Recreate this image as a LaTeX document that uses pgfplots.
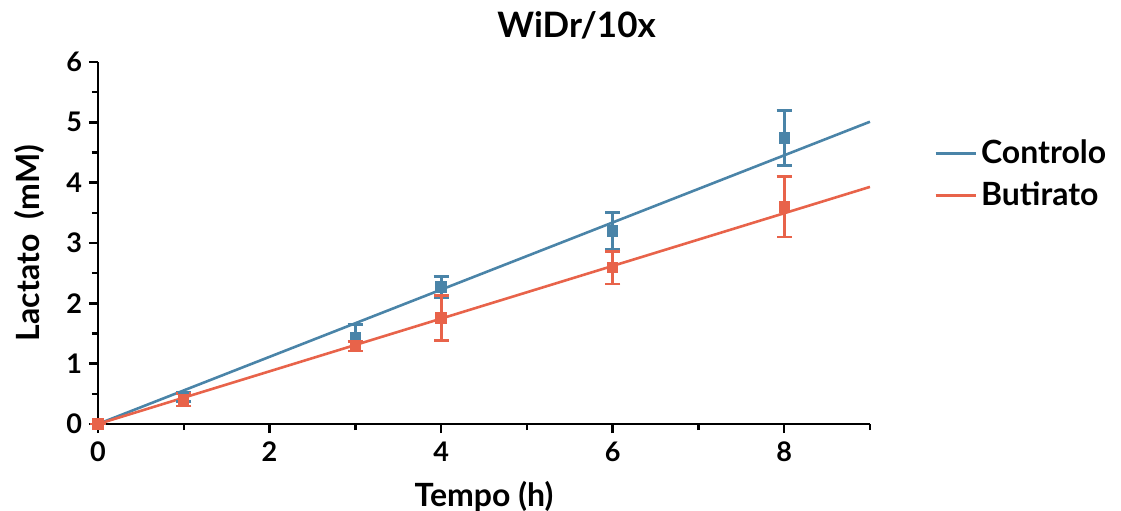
\documentclass[border=0pt]{standalone}
\usepackage{pgfplots}
\pgfplotsset{compat=1.18}
\usepackage{fontspec}
\setmainfont{Lato}
\definecolor{cblue}{HTML}{4A84A8}
\definecolor{cred}{HTML}{E8634A}
\begin{document}
\begin{tikzpicture}
\path[use as bounding box] (-49pt,-43pt) rectangle (511.5pt,212pt);
\begin{axis}[
  scale only axis, width=386pt, height=181pt,
  xmin=0, xmax=9, ymin=0, ymax=6,
  axis x line*=bottom, axis y line*=left,
  axis line style={line width=1.4pt, -},
  xtick={0,2,4,6,8}, minor xtick={1,3,5,7,9},
  ytick={0,1,...,6}, minor ytick={0.5,1.5,...,5.5},
  tick align=outside,
  major tick length=4.5pt, minor tick length=3pt,
  tick style={line width=1.2pt, black},
  every tick label/.append style={font=\fontsize{13.5}{14}\selectfont\bfseries},
  xticklabel style={yshift=-1pt},
  /pgf/number format/assume math mode=true,
  xlabel={Tempo (h)}, ylabel={Lactato\ \ (mM)},
  xlabel style={font=\fontsize{16}{18}\selectfont\bfseries, at={(axis description cs:0.5,0)}, anchor=north, yshift=-25pt},
  ylabel style={font=\fontsize{16}{18}\selectfont\bfseries},
  ylabel shift=4pt,
  title={WiDr/10x}, title style={font=\fontsize{17.5}{20}\selectfont\bfseries, at={(axis description cs:0.62,1)}, yshift=2pt},
  legend style={draw=none, fill=none, at={(1.075,0.69)}, anchor=west, font=\fontsize{16}{18}\selectfont\bfseries, row sep=3.5pt},
  legend cell align=left,
  legend image code/.code={\draw[#1, line width=1.4pt] (0pt,0pt) -- (20pt,0pt);},
  clip=false,
]
\addplot[cblue, line width=1.3pt, no marks] coordinates {(0,0) (9,5.01)};
\addlegendentry{Controlo}
\addplot[cred, line width=1.3pt, no marks] coordinates {(0,0) (9,3.93)};
\addlegendentry{Butirato}
\addplot[cblue, only marks, mark=square*, mark size=2.2pt, line width=1.3pt,
  error bars/.cd, y dir=both, y explicit, error mark options={rotate=90, mark size=3.8pt, line width=1.4pt}, error bar style={line width=1.4pt}]
  coordinates {(0,0) +- (0,0) (1,0.45) +- (0,0.08) (3,1.43) +- (0,0.22) (4,2.27) +- (0,0.17) (6,3.2) +- (0,0.31) (8,4.74) +- (0,0.46)};
\addplot[cred, only marks, mark=square*, mark size=2.2pt, line width=1.3pt,
  error bars/.cd, y dir=both, y explicit, error mark options={rotate=90, mark size=3.8pt, line width=1.4pt}, error bar style={line width=1.4pt}]
  coordinates {(0,0) +- (0,0) (1,0.40) +- (0,0.1) (3,1.29) +- (0,0.08) (4,1.76) +- (0,0.37) (6,2.59) +- (0,0.27) (8,3.6) +- (0,0.5)};
\end{axis}
\end{tikzpicture}
\end{document}
